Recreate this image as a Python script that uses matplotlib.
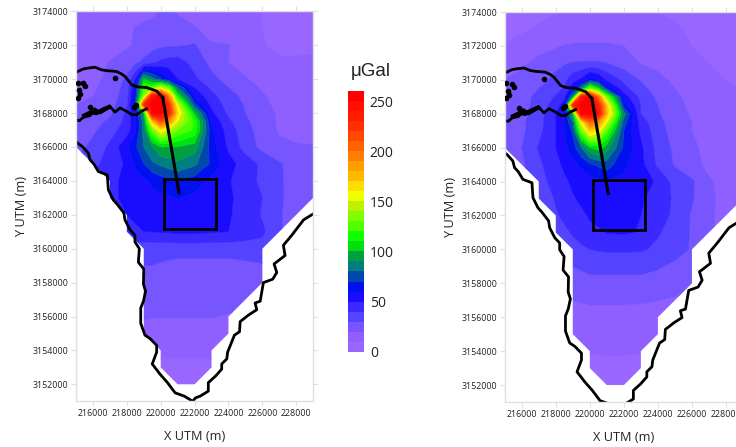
import numpy as np
import matplotlib
matplotlib.use("Agg")
import matplotlib.pyplot as plt
from matplotlib.colors import ListedColormap, BoundaryNorm
from matplotlib.cm import ScalarMappable
from matplotlib.patches import Polygon, Rectangle

plt.rcParams["font.family"] = ["Open Sans", "DejaVu Sans"]

# grid nodes (km)
grid_x = [215, 216, 217, 218, 218.5, 219, 219.5, 220, 220.5, 221, 222, 223, 224, 225, 226, 227, 228, 229]
grid_y = [3174, 3173, 3172, 3171, 3170, 3169.5, 3169, 3168.5, 3168, 3167.5, 3167, 3166, 3165, 3164,
          3163, 3162, 3161, 3160, 3159, 3158, 3156, 3155, 3154, 3153, 3152]

# observed gravity change, uGal
z_left = [
    [14, 14, 14, 15, 16, 17, 18, 20.5, 21, 19, 15, 13, 12, 11, 10, 8, 8, 8],
    [15, 15, 15, 18, 20.5, 22, 23, 24, 24, 24, 21, 16, 13, 11, 10, 8, 8, 8],
    [15, 15, 16, 19, 21, 24, 26, 28, 29, 29, 31, 21, 20.5, 15, 10.5, 8.5, 8.5, 9],
    [15, 16, 20.5, 24, 28, 32, 38, 42, 44, 45, 36, 27, 20, 16, 12, 11, 11, 11],
    [17, 18, 22, 32, 50, 100, 85, 72, 60, 50, 42, 33, 26, 21, 16, 13, 12, 12],
    [18, 19, 23, 34, 60, 120, 125, 150, 125, 80, 50, 38, 30, 24, 19, 15, 14, 13],
    [19, 20, 24, 36, 65, 135, 245, 258, 190, 110, 58, 43, 34, 27, 21, 17, 15, 14],
    [20, 22, 26, 38, 70, 230, 258, 258, 225, 150, 72, 47, 36, 29, 22, 18, 16, 15],
    [22, 24, 28, 42, 60, 95, 258, 258, 235, 165, 100, 52, 38, 30, 23, 19, 17, 16],
    [23, 26, 32, 43, 58, 85, 170, 215, 190, 150, 118, 58, 42, 32, 24, 19, 17, 16],
    [24, 28, 36, 45, 58, 85, 130, 160, 145, 130, 118, 62, 45, 34, 25, 19, 17, 17],
    [26, 33, 42, 58, 68, 80, 90, 100, 100, 100, 95, 65, 48, 36, 27, 22, 21, 20.5],
    [32, 38, 43, 52, 62, 70, 78, 82, 85, 88, 82, 68, 54, 45, 38, 31, 26, 24],
    [36, 42, 48, 52, 55, 58, 62, 65, 68, 70, 65, 57, 51, 44, 38, 31, 27, 25],
    [38, 44, 48, 52, 54, 55, 57, 58, 59, 60.5, 58, 55, 52, 45, 40, 31, 27, 25],
    [38, 44, 48, 50, 51, 52, 53, 54, 55, 55, 54, 53, 51, 46, 39, 31, 25, 22],
    [38, 42, 46, 48, 49, 50, 50, 51, 51, 52, 52, 51, 50, 46, 42, 31, 25, 22],
    [30, 32, 34, 34, 34, 34, 34, 34, 34, 34, 34, 34, 34, 35, 36, 30, 25, 22],
    [26, 27, 28, 29, 30, 30, 30, 29, 28, 27, 27, 27, 27, 28, 29, 27, 25, 22],
    [24, 24, 25, 25, 25, 25, 25, 25, 25, 25, 25, 25, 25, 25, 25, 25, 23, 21],
    [20, 20, 20, 21, 21, 21, 20.5, 20.5, 20.5, 20.5, 20.5, 20.5, 19.5, 19, 18, 18, 17, 16],
    [16, 16, 16, 16, 16, 16, 16, 16, 16, 16, 16, 16, 16, 16, 16, 16, 16, 16],
    [12, 12, 12, 12, 12, 12, 12, 12, 12, 12, 12, 12, 12, 12, 12, 12, 12, 12],
    [8, 8, 8, 8, 8, 8, 8, 8, 8, 8, 8, 8, 8, 8, 8, 8, 8, 8],
    [6, 6, 6, 6, 6, 6, 6, 6, 6, 6, 6, 6, 6, 6, 6, 6, 6, 6],
]

# modelled gravity change, uGal
z_right = [
    [6, 7, 8, 10, 11, 12, 13, 13, 13, 13, 12, 11, 10, 9, 8, 7, 6, 6],
    [7, 9, 11, 13, 14, 15, 16, 16, 16, 16, 15, 14, 12, 11, 9, 8, 7, 6],
    [10.5, 13, 16, 19, 20.5, 21, 21, 21, 21, 21, 20, 17, 14, 12, 10, 8, 7, 6.5],
    [14, 18, 23, 27, 29, 30.5, 31, 31, 31, 30, 25, 19.5, 17, 14, 12, 10, 8.5, 7.5],
    [20, 24, 26, 33, 37, 47, 52, 65, 60, 48, 38, 29, 23, 18, 15, 12, 10, 9],
    [21, 25, 30, 36, 41, 55, 85, 130, 105, 68, 43, 33, 25, 20, 16, 13, 11, 9.5],
    [22, 26, 33, 41, 47, 88, 240, 258, 200, 130, 55, 37, 28, 22, 17, 14, 12, 10],
    [22, 26, 34, 45, 55, 230, 258, 258, 240, 170, 65, 40, 30, 23, 18, 15, 12, 11],
    [22, 27, 35, 50, 62, 95, 258, 258, 250, 175, 85, 40, 31, 24, 19, 15, 13, 11],
    [23, 28, 36, 50, 60, 80, 155, 205, 190, 150, 75, 45, 33, 25, 20, 16, 13, 11],
    [23, 28, 37, 50, 60, 72, 130, 170, 160, 125, 70, 48, 34, 26, 20, 16, 13, 11],
    [23, 30, 41, 50, 58, 65, 80, 100, 105, 95, 68, 52, 36, 28, 22, 17, 14, 12],
    [23, 28, 38, 47, 52, 57, 62, 68, 72, 75, 62, 53, 38, 29, 23, 18, 15, 12],
    [22, 27, 36, 44, 48, 52, 54, 56, 58, 60, 58, 53, 49, 36, 31.5, 21, 17, 13],
    [21, 26, 33, 41, 45, 49, 52, 54, 55, 55, 55, 51, 47, 38, 31, 22, 17, 13],
    [20, 25, 31, 39, 42, 45, 48, 51, 53, 54, 54, 50, 46, 37, 29, 22, 16, 12],
    [19, 23, 29, 35, 38, 41, 45, 48, 48.5, 50.5, 51, 49.5, 41, 36, 29, 22, 16, 12],
    [18, 22, 27, 32, 34, 37, 38, 40, 41, 41.5, 42, 41.3, 38, 34, 29, 21, 15, 11],
    [16, 20, 24, 28, 29, 30, 31, 32, 32, 32, 32, 32, 31, 28, 25, 19, 14, 10],
    [15, 18, 21, 24, 25, 26, 27, 28, 28, 28, 28, 28, 26, 24, 22, 18, 13, 10],
    [10, 11, 12, 13, 14, 14.5, 15, 15.5, 15.5, 15.5, 15.5, 15, 14.5, 14, 13, 12, 10, 8],
    [12.5, 12.5, 12.5, 12.5, 12.5, 12.5, 12.5, 12.5, 12.5, 12.5, 12.5, 12.5, 12.5, 12, 12, 11, 10, 8],
    [10, 10, 10, 10, 10, 10.2, 10.3, 10.3, 10.5, 10.6, 10.6, 10.3, 10, 10, 10, 9, 9, 8],
    [8.5, 8.5, 8.5, 8.5, 8.5, 8.5, 8.5, 8.5, 8.5, 8.5, 8.5, 8.5, 8.5, 8.5, 8.5, 8, 8, 8],
    [7, 7, 7, 7, 7, 7, 7, 7, 7, 7, 7, 7, 7, 7, 7, 7, 7, 7],
]

# blanking outline of the gridded area (km)
mask_x = [215, 217, 217, 218, 218, 219, 219, 220, 220, 221, 222, 223, 223, 224, 224, 226, 226, 229, 229, 215]
mask_y = [3166, 3164, 3163, 3162, 3161, 3160, 3155, 3154, 3153, 3152, 3152, 3153, 3154, 3155, 3156, 3158,
          3160, 3163, 3174, 3174]

# coastlines (km)
south_x = [215, 215.4, 215.73, 215.83, 216.05, 216.32, 216.85, 216.91, 217.2, 217.45, 217.83, 217.89, 218.19, 218.48,
           218.48, 218.74, 218.68, 219.0, 218.98, 219.11, 218.98, 218.82, 218.82, 219.07, 219.37, 219.76, 219.76,
           219.5, 219.96, 220.4, 220.85, 221.4, 221.89, 222.05, 222.32, 222.81, 222.81, 223.25, 223.6, 223.6, 223.9, 223.95, 224.35, 224.65,
           224.69, 225.2, 225.67, 225.57, 225.87, 226.06, 226.61, 226.85, 226.69, 227.34, 227.24, 227.74, 228.43, 229.0]
south_y = [3166.3, 3166.0, 3165.63, 3165.24, 3165.0, 3164.55, 3164.35, 3163.47, 3162.88, 3162.6, 3162.1, 3161.7, 3161.11, 3160.8,
           3160.4, 3160.0, 3159.2, 3158.8, 3157.9, 3157.5, 3156.9, 3156.5, 3155.6, 3154.9, 3154.7, 3154.3, 3153.9,
           3153.2, 3152.6, 3152.1, 3151.5, 3151.3, 3151.0, 3151.2, 3151.3, 3151.6, 3152.1, 3152.5, 3152.9, 3153.2, 3153.5, 3153.9, 3154.9, 3155.1,
           3155.7, 3156.1, 3156.4, 3156.8, 3156.9, 3158.0, 3158.2, 3158.6, 3159.1, 3159.6, 3160.2, 3160.8, 3161.7, 3162.05]
north_x = [215, 215.43, 215.7, 216.12, 216.5, 216.81, 217.4, 217.7, 217.9, 218.29, 218.6, 219.17, 219.76, 220.12]
north_y = [3170.4, 3170.6, 3170.65, 3170.7, 3170.55, 3170.5, 3170.45, 3170.3, 3170.15, 3169.66, 3169.55, 3169.5, 3169.3, 3168.9]
bay_x = [215, 215.2, 215.43, 215.83, 216.1, 216.42, 216.75, 217, 217.3, 217.6, 217.99, 218.3, 218.58, 218.85, 219.17]
bay_y = [3167.6, 3167.55, 3167.75, 3167.85, 3168.25, 3168.0, 3168.2, 3168.4, 3168.05, 3168.3, 3168.1, 3167.9, 3167.9, 3168.1, 3168.25]
reef_x = [215.5, 215.9, 216.2, 216.6, 216.95]
reef_y = [3167.85, 3168.05, 3168.0, 3168.2, 3168.35]
islet_x = [215.1, 215.4, 215.55, 215.2, 215.1, 215.25, 215.85, 217.32, 218.55, 218.45]
islet_y = [3169.8, 3169.75, 3169.6, 3169.35, 3168.9, 3169.1, 3168.35, 3170.05, 3168.45, 3168.35]

fault_x = [220.12, 221.08]
fault_y = [3168.9, 3163.3]
box_x, box_y, box_w, box_h = 220.2, 3161.15, 3.05, 2.95

levels = np.arange(0, 261, 10)
colors = ["#9966ff", "#8f60ff", "#7755ff", "#5544ff", "#3a2aff", "#1a0dff", "#0010f0", "#0048b0", "#007f80",
          "#00a040", "#00e010", "#10ff00", "#50ff00", "#80ff00", "#c0f000", "#f0ff00", "#ffdd00", "#ffb800",
          "#ff9c00", "#ff8000", "#ff6400", "#ff4800", "#ff3000", "#ff1c00", "#ff1000", "#ff0000"]
xtick_vals = [216000, 218000, 220000, 222000, 224000, 226000, 228000]
ytick_vals = list(range(3152000, 3174001, 2000))
cbar_ticks = [0, 50, 100, 150, 200, 250]

cmap = ListedColormap(colors)
norm = BoundaryNorm(levels, cmap.N)
W, H = 736, 447


def draw_panel(pos, z, dx=0.0, dy=0.0):
    ax = fig.add_axes([pos[0] / W, 1 - pos[3] / H, (pos[2] - pos[0]) / W, (pos[3] - pos[1]) / H])
    cs = ax.contourf(np.array(grid_x) * 1000, np.array(grid_y) * 1000, np.array(z), levels=levels,
                     cmap=cmap, norm=norm, antialiased=True)
    # close the hairline seams between the bands
    cs.set_edgecolor("face")
    cs.set_linewidth(0.4)
    mask = Polygon(np.column_stack([mask_x, mask_y]) * 1000, closed=True, transform=ax.transData)
    cs.set_clip_path(mask)

    ax.plot((np.array(south_x) + dx) * 1000, (np.array(south_y) + dy) * 1000, color="k", lw=2)
    ax.plot(np.array(north_x) * 1000, np.array(north_y) * 1000, color="k", lw=2)
    ax.plot(np.array(bay_x) * 1000, np.array(bay_y) * 1000, color="k", lw=2)
    ax.plot(np.array(reef_x) * 1000, np.array(reef_y) * 1000, color="k", lw=3.2)
    ax.plot(np.array(islet_x) * 1000, np.array(islet_y) * 1000, "o", color="k", ms=3, zorder=3)
    ax.plot(np.array(fault_x) * 1000, np.array(fault_y) * 1000, color="k", lw=2.2)
    ax.add_patch(Rectangle((box_x * 1000, box_y * 1000), box_w * 1000, box_h * 1000, fill=False,
                           edgecolor="k", lw=2))

    ax.set_xlim(215000, 229000)
    ax.set_ylim(3151000, 3174000)
    ax.set_xticks(xtick_vals)
    ax.set_yticks(ytick_vals)
    ax.ticklabel_format(useOffset=False, style="plain")
    ax.tick_params(top=True, right=True, direction="out", length=3.5, width=0.8, color="#e0e0e0",
                   labelsize=6.4, labelcolor="#222222", pad=2)
    for s in ax.spines.values():
        s.set_color("#e0e0e0")
        s.set_linewidth(1)
    ax.set_xlabel("X UTM (m)", fontsize=9.2, color="#222222", labelpad=9)
    ax.set_ylabel("Y UTM (m)", fontsize=9.2, color="#222222", labelpad=3)
    return ax


fig = plt.figure(figsize=(W / 100, H / 100), dpi=100)
draw_panel((76, 11.3, 313.2, 401.3), z_left)
draw_panel((504.7, 12, 743, 402), z_right, dx=-0.25, dy=-0.42)

cax = fig.add_axes([348 / W, 1 - 351.7 / H, 16.3 / W, (351.7 - 91) / H])
cb = fig.colorbar(ScalarMappable(norm=norm, cmap=cmap), cax=cax, ticks=cbar_ticks, spacing="proportional")
cb.outline.set_visible(False)
cb.ax.minorticks_off()
cb.ax.tick_params(length=0, labelsize=10, pad=4, labelcolor="#222222")
fig.text(370.5 / W, 1 - 71 / H, "\u03bcGal", fontsize=13.5, ha="center", va="center", color="#222222",
         family="Liberation Sans")

fig.savefig("out.png", dpi=100)
